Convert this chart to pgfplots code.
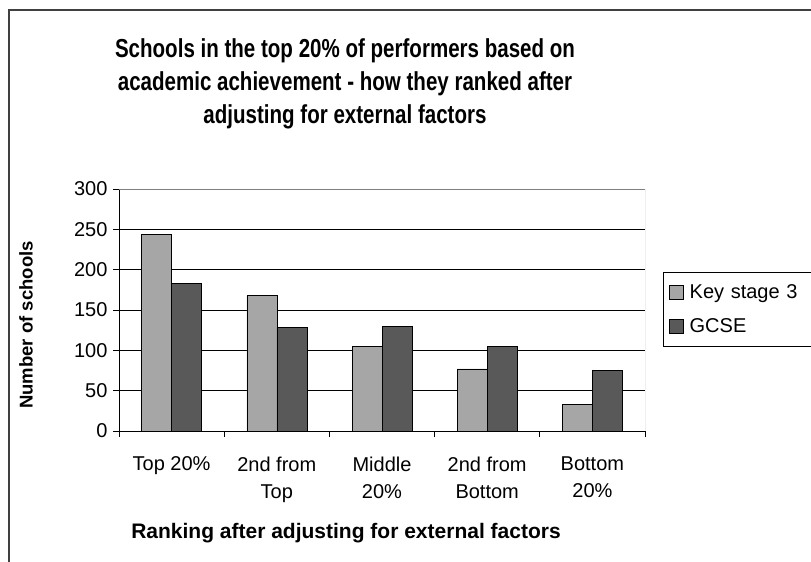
\documentclass[border=0pt]{standalone}
\usepackage{pgfplots}
\pgfplotsset{compat=1.18}
\usepackage{fontspec}
\setmainfont{Liberation Sans}
\newfontfamily\titlefont[FakeStretch=0.79]{Liberation Sans}
\definecolor{ksthree}{HTML}{A6A6A6}
\definecolor{gcse}{HTML}{595959}
\begin{document}
\begin{tikzpicture}[x=1pt,y=-1pt]
\useasboundingbox (0,0) rectangle (811,562);
\draw[line width=1.2pt, black!75] (9,562) -- (9,10) -- (811,10);
% title, one node per line
\begin{scope}[every node/.style={anchor=base, font=\titlefont\bfseries\fontsize{26}{28}\selectfont}]
\node at (345,57) {Schools in the top 20\% of performers based on};
\node at (345,90) {academic achievement - how they ranked after};
\node at (345,123) {adjusting for external factors};
\end{scope}
\node[rotate=90, font=\bfseries\fontsize{18.5}{22}\selectfont] at (26,325) {Number of schools};
\node[anchor=base, font=\bfseries\fontsize{21}{24}\selectfont] at (346,538) {Ranking after adjusting for external factors};
\begin{axis}[
    at={(119pt,-431pt)}, anchor=south west,
    scale only axis, width=526pt, height=242pt,
    xmin=-0.5, xmax=4.5, ymin=0, ymax=300,
    axis x line*=bottom, axis y line*=left,
    axis line style={black, line width=0.8pt},
    ytick={0,50,...,300},
    xtick={-0.5,0.5,...,4.5},
    x tick label as interval,
    xticklabels={Top 20\%,2nd from\\Top,Middle\\20\%,2nd from\\Bottom,Bottom\\20\%},
    xticklabel style={align=center, font=\fontsize{20}{27}\selectfont, yshift=-16pt},
    yticklabel style={font=\fontsize{20}{24}\selectfont, xshift=-2pt},
    /pgf/number format/assume math mode=true,
    tick align=outside, major tick length=6pt,
    tick style={black, line width=0.8pt},
    ymajorgrids, grid style={black, line width=0.8pt},
    ybar=0pt, bar width=30pt,
    legend style={at={(axis description cs:1.0342,0.657)}, anchor=north west,
        draw=black, line width=0.8pt, font=\fontsize{20}{24}\selectfont,
        inner xsep=6pt, inner ysep=10pt, row sep=15pt, text width=130pt},
    legend cell align=left,
    legend image code/.code={\draw[#1, line width=0.6pt] (0pt,-7pt) rectangle (14pt,7pt);
        \path[draw=none, fill=none] (0pt,-1pt) rectangle (18pt,1pt);},
]
\addplot[fill=ksthree, draw=black, line width=0.6pt] coordinates {(0,244) (1,168) (2,105) (3,77) (4,33)};
\addplot[fill=gcse, draw=black, line width=0.6pt] coordinates {(0,183) (1,128) (2,130) (3,105) (4,75)};
\legend{Key stage 3, GCSE}
\draw[gray, line width=0.8pt] (rel axis cs:0,1) -- (rel axis cs:1,1) -- (rel axis cs:1,0);
\end{axis}
\end{tikzpicture}
\end{document}
